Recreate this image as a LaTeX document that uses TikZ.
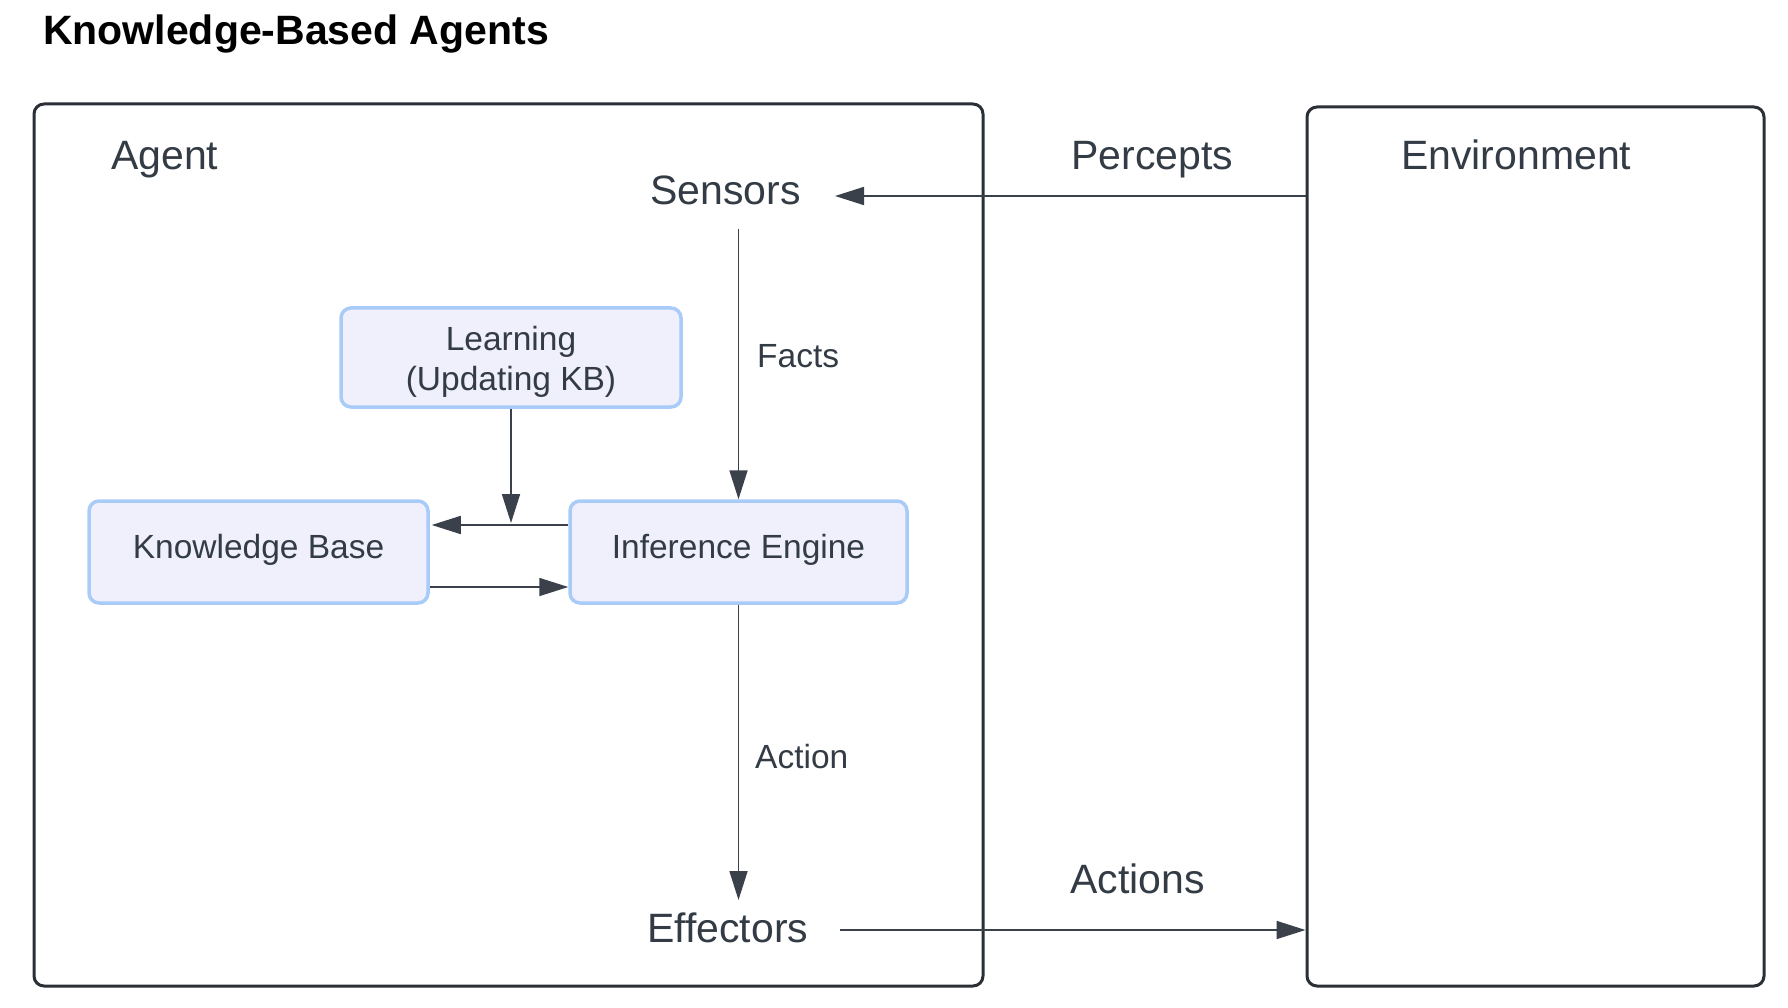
\documentclass[tikz,border=0pt]{standalone}
\usepackage{fontspec}
\setmainfont{Liberation Sans}
\usetikzlibrary{arrows.meta}
\definecolor{txtc}{HTML}{333B45}
\definecolor{lnc}{HTML}{3A414B}
\definecolor{framec}{HTML}{2B3036}
\definecolor{boxfillc}{HTML}{EFF0FC}
\definecolor{boxlinec}{HTML}{A9CBF8}
\begin{document}
\begin{tikzpicture}[x=1pt,y=-1pt,
  outerbox/.style={draw=framec, line width=3pt, rounded corners=10pt, inner sep=0pt},
  kbox/.style={draw=boxlinec, fill=boxfillc, line width=3.5pt, rounded corners=10pt, inner sep=0pt, text=txtc, font=\fontsize{33.5}{40}\selectfont, align=center},
  biglabel/.style={text=txtc, font=\fontsize{41}{49}\selectfont, inner sep=0pt, anchor=base west},
  smalllabel/.style={text=txtc, font=\fontsize{33.5}{39}\selectfont, inner sep=0pt, anchor=base west},
  arr/.style={draw=lnc, line width=1.7pt, -{Triangle[length=29pt,width=18pt]}}]
\path[use as bounding box, fill=white] (0,0) rectangle (1788,1008);

% title
\node[anchor=base west, inner sep=0pt, font=\bfseries\fontsize{41}{49}\selectfont] (title) at (43,45) {Knowledge-Based Agents};

% outer frames
\node[outerbox, minimum width=949pt, minimum height=882pt] (agent) at (508.5,545) {};
\node[outerbox, minimum width=457pt, minimum height=879pt] (env) at (1535.5,546.5) {};

% big labels
\node[biglabel] (agentlbl) at (111,170) {Agent};
\node[biglabel] (sensors) at (650,205) {Sensors};
\node[biglabel] (percepts) at (1071,170) {Percepts};
\node[biglabel] (envlbl) at (1401,170) {Environment};
\node[biglabel] (effectors) at (647,942) {Effectors};
\node[biglabel] (actions) at (1070,893) {Actions};

% small labels
\node[smalllabel] (facts) at (757,367) {Facts};
\node[smalllabel] (action) at (755,768) {Action};

% inner boxes
\node[kbox, minimum width=340pt, minimum height=99pt] (learn) at (511,357.5) {\rule{0pt}{32pt}Learning\\(Updating KB)};
\node[kbox, minimum width=339pt, minimum height=102pt, text height=24pt, text depth=12pt] (kb) at (258.5,552) {Knowledge Base};
\node[kbox, minimum width=337pt, minimum height=102pt, text height=24pt, text depth=12pt] (ie) at (738.5,552) {Inference Engine};

% connectors
\coordinate (sensTip) at (835,196);
\draw[arr] (env.west |- sensTip) -- (sensTip);
\coordinate (factsStart) at (738.5,229);
\draw[arr] (factsStart) -- (ie.north);
\coordinate (effTip) at (738.5,900);
\draw[arr] (ie.south) -- (effTip);
\coordinate (actStart) at (840,930);
\draw[arr] (actStart) -- (env.west |- actStart);
\coordinate (upY) at (0,525);
\draw[arr] (ie.west |- upY) -- ([xshift=2pt]kb.east |- upY);
\coordinate (loY) at (0,587);
\draw[arr] (kb.east |- loY) -- (ie.west |- loY);
\coordinate (learnTip) at (511,523);
\draw[arr] (learn.south) -- (learnTip);
\end{tikzpicture}
\end{document}
